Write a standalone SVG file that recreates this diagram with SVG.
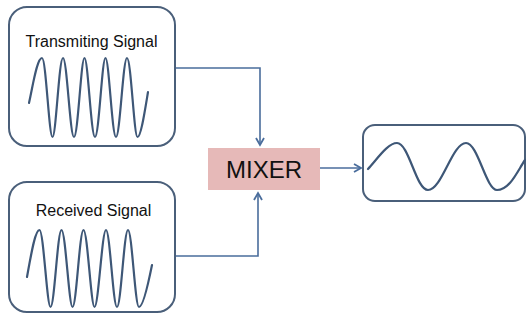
<svg xmlns="http://www.w3.org/2000/svg" width="526" height="320" viewBox="0 0 526 320">
<defs>
<style>
.box{fill:#fff;stroke:#4a5f7a;stroke-width:2}
.wave{fill:none;stroke:#3e5777;stroke-width:2.2;stroke-linecap:round;stroke-linejoin:round}
.lbl{font-family:"Liberation Sans",Arial,sans-serif;font-size:16px;fill:#111;text-anchor:middle}
.conn{fill:none;stroke:#4a6d9c;stroke-width:1.6}
</style>
<marker id="arr" markerWidth="10" markerHeight="10" refX="8" refY="5" orient="auto" markerUnits="userSpaceOnUse">
<path d="M1,1 L8,5 L1,9" fill="none" stroke="#4a6d9c" stroke-width="1.8"/>
</marker>
</defs>
<rect width="526" height="320" fill="#fff"/>
<g id="connectors">
<path class="conn" d="M175,68 H260 V145" marker-end="url(#arr)"/>
<path class="conn" d="M175,256 H258 V193" marker-end="url(#arr)"/>
<path class="conn" d="M320,168 H361" marker-end="url(#arr)"/>
</g>
<g id="transmitting">
<rect class="box" x="9" y="7" width="166" height="139" rx="18"/>
<text class="lbl" x="91.5" y="47">Transmiting Signal</text>
<path class="wave" d="M29,103 C33,85 37,58 42,58 C46,58 49,137 52.5,137 C56,137 59,58 63,58 C67,58 70,137 74,137 C78,137 81,58 84.5,58 C88,58 91,137 95,137 C99,137 102,58 105.5,58 C109,58 112,137 116,137 C120,137 123,58 127,58 C131,58 134,137 137.5,137 C141,137 145,110 148,92"/>
</g>
<g id="received">
<rect class="box" x="9" y="182" width="166" height="130" rx="18"/>
<text class="lbl" x="93.5" y="216">Received Signal</text>
<path class="wave" d="M27,277 C31,255 35,230 39.5,230 C43.5,230 47,307 50.5,307 C54.5,307 57.5,230 61.5,230 C65.5,230 69,307 72.5,307 C76.5,307 79.5,230 83.5,230 C87.5,230 91,307 94.5,307 C98.5,307 102,230 106,230 C110,230 113,307 117,307 C121,307 124,230 128,230 C132,230 135,307 139,307 C143,307 148,285 152,265"/>
</g>
<g id="mixer">
<rect x="208" y="148" width="112" height="42" fill="#e6b9b8"/>
<text x="264" y="178" font-family="Liberation Sans,Arial,sans-serif" font-size="24" fill="#111" text-anchor="middle">MIXER</text>
</g>
<g id="output">
<rect class="box" x="363" y="125" width="162" height="76" rx="12"/>
<path class="wave" d="M368,169 C378,158 388,143 397,143 C409,143 416,190 428,190 C442,190 452,143 466,143 C478,143 486,190 497,190 C510,190 518,170 525,160"/>
</g>
</svg>
